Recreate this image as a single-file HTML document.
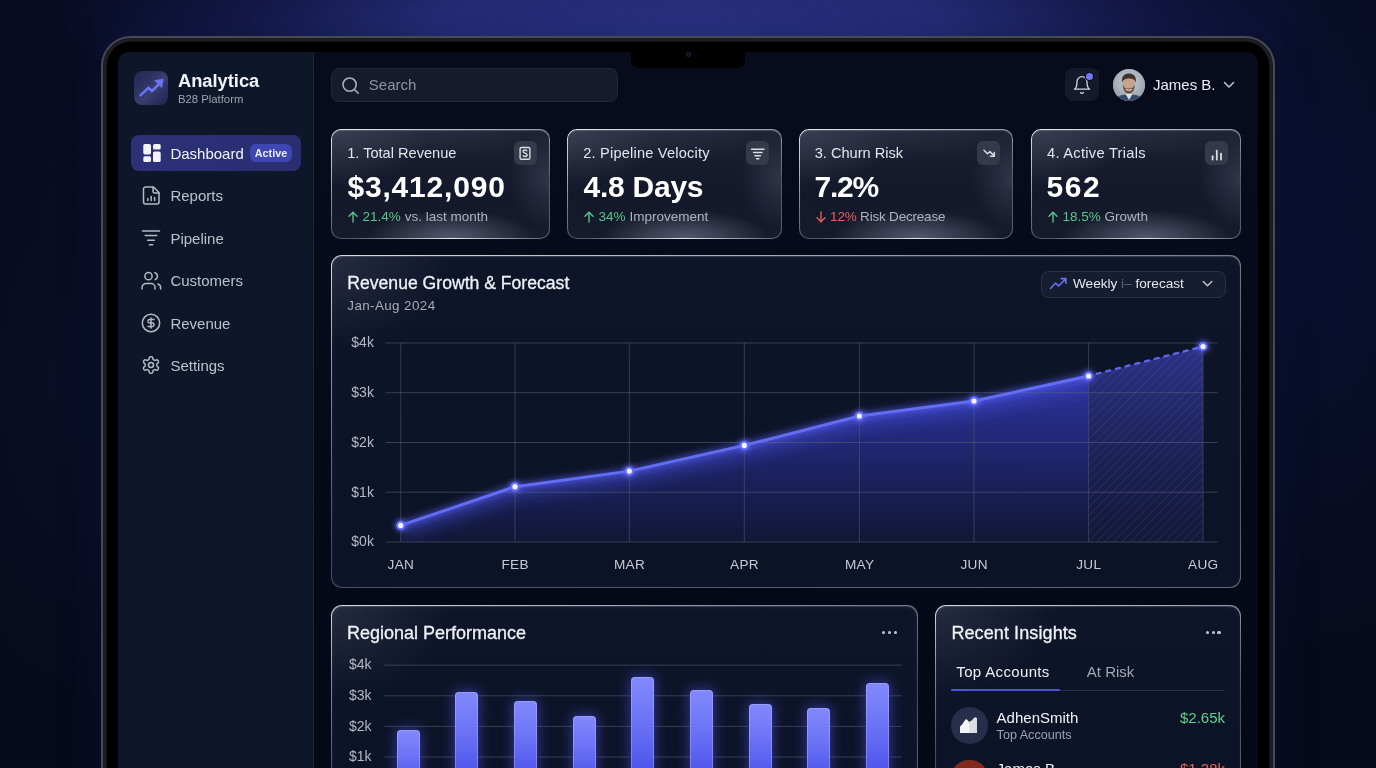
<!DOCTYPE html>
<html><head><meta charset="utf-8"><style>
*{margin:0;padding:0;box-sizing:border-box}
html,body{width:1376px;height:768px;overflow:hidden}
body{position:relative;background:#060a1b;font-family:"Liberation Sans",sans-serif;color:#e8eaf0}
.a{position:absolute}
.t{position:absolute;line-height:1;white-space:nowrap}
#glow{left:0;top:0;width:1376px;height:768px;
 background:
 radial-gradient(ellipse 640px 115px at 688px 22px, rgba(40,48,128,1) 0%, rgba(38,46,122,0.9) 40%, rgba(26,32,94,0.55) 70%, rgba(6,10,27,0) 100%),
 radial-gradient(ellipse 800px 400px at 688px 0px, rgba(20,26,80,0.5) 0%, rgba(6,10,27,0) 100%),
 radial-gradient(ellipse 160px 420px at 1330px 260px, rgba(14,22,72,0.45) 0%, rgba(6,10,27,0) 100%),
 radial-gradient(ellipse 130px 340px at 60px 380px, rgba(14,20,52,0.45) 0%, rgba(6,10,27,0) 100%);}
#device{left:100.6px;top:35.5px;width:1174px;height:800px;border-radius:30px;background:#000;border:2.5px solid #474953;box-shadow:inset 0 0 0 3.6px #1b1d22, 0 10px 40px 0 rgba(16,24,72,0.4);}
#screen{left:118px;top:52px;width:1140px;height:760px;border-radius:11px;background:linear-gradient(180deg,#070b1c 0%,#060a19 40%,#050816 100%);overflow:hidden}
#sidebar{left:118px;top:52px;width:196px;height:760px;border-top-left-radius:11px;background:#0e1629;border-right:1px solid #1b2337}
#notch{left:631px;top:51px;width:114px;height:17px;background:#000;border-radius:0 0 7px 7px}
#cam{left:685.5px;top:52px;width:5px;height:5px;border-radius:50%;background:#0b0d18;border:1px solid #23263a}
.logo{left:134px;top:71px;width:34px;height:34px;border-radius:8px;background:linear-gradient(135deg,#242950 0%,#2b3060 30%,#3a3f72 55%,#2c3160 75%,#22264a 100%)}
.navact{left:131px;top:135px;width:170px;height:36px;border-radius:8px;background:linear-gradient(90deg,#2c3178,#292e70)}
.badge{left:250px;top:144px;width:42px;height:18px;border-radius:6px;background:#3f46b2}
.ico{position:absolute}
.search{left:331px;top:68px;width:287px;height:33.8px;border-radius:8px;background:#151b2d;border:1px solid #20273a}
.bell{left:1065px;top:68px;width:34px;height:33px;border-radius:8px;background:#141a2c}
.bdot{left:1086px;top:73px;width:7.4px;height:7.4px;border-radius:50%;background:#7077ef;box-shadow:0 0 0 1.2px #0a0f26}
.avatar{left:1113px;top:69px;width:32px;height:32px;border-radius:50%;overflow:hidden;background:#8a8f98}

.card{position:absolute;border-radius:10px;border:1.5px solid transparent;
 background:
  radial-gradient(ellipse 100px 55px at 0% 0%, rgba(78,84,104,0.6), rgba(78,84,104,0) 100%) padding-box,
  radial-gradient(ellipse 85px 28px at 55% 100%, rgba(125,131,152,0.6), rgba(125,131,152,0) 100%) padding-box,
  radial-gradient(ellipse 40px 50px at 100% 45%, rgba(80,86,106,0.45), rgba(80,86,106,0) 100%) padding-box,
  radial-gradient(ellipse 120px 30px at 50% 0%, rgba(70,76,96,0.3), rgba(70,76,96,0) 100%) padding-box,
  linear-gradient(180deg,#1a1f31 0%,#13192b 60%,#151a2c 100%) padding-box,
  radial-gradient(ellipse 45% 35% at 55% 100%, rgba(236,239,246,0.95), rgba(236,239,246,0) 100%) border-box,
  linear-gradient(165deg, rgba(240,242,248,0.97) 0%, rgba(200,205,216,0.8) 30%, rgba(125,131,147,0.65) 65%, rgba(135,141,156,0.65) 100%) border-box;
 box-shadow: inset 0 1px 1px rgba(255,255,255,0.18);}
.cico{position:absolute;width:23.5px;height:24px;border-radius:6px;background:#353a4b}
.up{color:#55c888}.dn{color:#e2625c}.mut{color:#adb2bf}

.panel{position:absolute;border-radius:11px;border:1.4px solid transparent;
 background:
  radial-gradient(ellipse 120px 90px at 0% 0%, rgba(60,66,86,0.5), rgba(60,66,86,0) 100%) padding-box,
  linear-gradient(180deg,#0f1529 0%,#0d1326 100%) padding-box,
  linear-gradient(170deg, rgba(236,239,246,0.92) 0%, rgba(190,195,208,0.7) 25%, rgba(120,126,142,0.55) 60%, rgba(150,156,170,0.65) 100%) border-box;
 box-shadow: inset 0 1px 1px rgba(255,255,255,0.15), inset 0 1px 8px rgba(255,255,255,0.04);}
.dd{left:1041px;top:270.5px;width:185px;height:27px;border-radius:8px;background:#171d30;border:1px solid #2a3146}

.dots{position:absolute;width:3.4px;height:3.4px;border-radius:50%;background:#c4c8d2}
.bar{position:absolute;width:23px;border-radius:4px 4px 0 0;
 background:linear-gradient(180deg,#8289fc 0%,#6d74f6 35%,#5057ec 72%,#434ae4 100%);
 box-shadow:inset 0 0 0 1px rgba(185,190,255,0.4), 0 0 12px 2px rgba(80,88,245,0.45)}
</style></head><body>
<div id="glow" class="a"></div><div id="device" class="a"></div><div id="screen" class="a"></div><div id="sidebar" class="a"></div><div id="notch" class="a"></div><div id="cam" class="a"></div>
<div class="a logo"></div>
<svg class="ico" style="left:134px;top:71px" width="34" height="34" viewBox="0 0 34 34"><path d="M6.5 24.3L14.3 16.8L18 20L25.5 12.6" fill="none" stroke="#6b74f3" stroke-width="2.5" stroke-linecap="round" stroke-linejoin="round"/><path d="M29.2 8.2L20.8 9.6L27.8 16.6Z" fill="#6b74f3" stroke="#6b74f3" stroke-width="0.8" stroke-linejoin="round"/></svg>
<div class="t" style="top:72.11px;font-size:18.3px;color:#f4f5f8;font-weight:700;left:178.00px;">Analytica</div>
<div class="t" style="top:94.23px;font-size:11.3px;color:#9ea3b2;font-weight:400;left:178.00px;">B28 Platform</div>
<div class="a navact"></div>
<div class="a badge"></div>
<div class="t" style="top:147.86px;font-size:10.8px;color:#e9ebff;font-weight:700;left:250.00px;width:42px;text-align:center;">Active</div>
<svg class="ico" style="left:142.5px;top:144px" width="18" height="18" viewBox="0 0 18 18" fill="#f2f3f8"><rect x="0.3" y="0" width="7.7" height="10.4" rx="1.6"/><rect x="10" y="0" width="7.7" height="5.6" rx="1.6"/><rect x="10" y="7.4" width="7.7" height="10.6" rx="1.6"/><rect x="0.3" y="12.2" width="7.7" height="5.8" rx="1.6"/></svg>
<div class="t" style="top:146.00px;font-size:15px;color:#f3f4f8;font-weight:400;left:170.40px;">Dashboard</div>
<div class="t" style="top:188.45px;font-size:15px;color:#bcc1cc;font-weight:400;left:170.40px;">Reports</div>
<div class="t" style="top:230.90px;font-size:15px;color:#bcc1cc;font-weight:400;left:170.40px;">Pipeline</div>
<div class="t" style="top:273.35px;font-size:15px;color:#bcc1cc;font-weight:400;left:170.40px;">Customers</div>
<div class="t" style="top:315.80px;font-size:15px;color:#bcc1cc;font-weight:400;left:170.40px;">Revenue</div>
<div class="t" style="top:358.25px;font-size:15px;color:#bcc1cc;font-weight:400;left:170.40px;">Settings</div>
<svg class="ico" style="left:142px;top:186px" width="19" height="19" viewBox="0 0 19 19" fill="none" stroke="#b4b9c6" stroke-width="1.5" stroke-linecap="round" stroke-linejoin="round"><path d="M11.5 1H3.5A2 2 0 0 0 1.5 3V16A2 2 0 0 0 3.5 18H15A2 2 0 0 0 17 16V6.5Z"/><path d="M11 1.2V5A2 2 0 0 0 13 7H16.8"/><path d="M5.8 14.5V12.6"/><path d="M9.2 14.5V10.4"/><path d="M12.6 14.5V11.5"/></svg>
<svg class="ico" style="left:141px;top:229px" width="20" height="18" viewBox="0 0 20 18" fill="none" stroke="#b4b9c6" stroke-width="1.5" stroke-linecap="round"><path d="M1.5 2H18.5"/><path d="M4.2 6.6H15.8"/><path d="M6.6 11.2H13.4"/><path d="M8.4 15.8H11.6"/></svg>
<svg class="ico" style="left:141px;top:271px" width="21" height="19" viewBox="0 0 21 19" fill="none" stroke="#b4b9c6" stroke-width="1.5" stroke-linecap="round" stroke-linejoin="round"><path d="M1 18V16.5A4 4 0 0 1 5 12.5H10A4 4 0 0 1 14 16.5V18"/><circle cx="7.5" cy="5.2" r="3.6"/><path d="M19.6 18V16.6A3.7 3.7 0 0 0 17 13"/><path d="M13.8 1.8A3.6 3.6 0 0 1 14.2 8.6"/></svg>
<svg class="ico" style="left:141px;top:313px" width="20" height="20" viewBox="0 0 20 20" fill="none" stroke="#b4b9c6" stroke-width="1.5" stroke-linecap="round" stroke-linejoin="round"><circle cx="10" cy="10" r="8.7"/><path d="M13 6.6H8.6A1.7 1.7 0 0 0 8.6 10H11.4A1.7 1.7 0 0 1 11.4 13.4H7"/><path d="M10 15V5"/></svg>
<svg class="ico" style="left:141px;top:355px" width="20" height="20" viewBox="0 0 24 24" fill="none" stroke="#b4b9c6" stroke-width="1.8" stroke-linecap="round" stroke-linejoin="round"><path d="M12.22 2h-.44a2 2 0 0 0-2 2v.18a2 2 0 0 1-1 1.73l-.43.25a2 2 0 0 1-2 0l-.15-.08a2 2 0 0 0-2.73.73l-.22.38a2 2 0 0 0 .73 2.73l.15.1a2 2 0 0 1 1 1.72v.51a2 2 0 0 1-1 1.74l-.15.09a2 2 0 0 0-.73 2.73l.22.38a2 2 0 0 0 2.73.73l.15-.08a2 2 0 0 1 2 0l.43.25a2 2 0 0 1 1 1.73V20a2 2 0 0 0 2 2h.44a2 2 0 0 0 2-2v-.18a2 2 0 0 1 1-1.73l.43-.25a2 2 0 0 1 2 0l.15.08a2 2 0 0 0 2.73-.73l.22-.39a2 2 0 0 0-.73-2.73l-.15-.08a2 2 0 0 1-1-1.74v-.5a2 2 0 0 1 1-1.74l.15-.09a2 2 0 0 0 .73-2.73l-.22-.38a2 2 0 0 0-2.73-.73l-.15.08a2 2 0 0 1-2 0l-.43-.25a2 2 0 0 1-1-1.73V4a2 2 0 0 0-2-2z"/><circle cx="12" cy="12" r="3"/></svg>
<div class="a search"></div>
<svg class="ico" style="left:341px;top:76px" width="19" height="19" viewBox="0 0 19 19" fill="none" stroke="#a9aebb" stroke-width="1.6" stroke-linecap="round"><circle cx="8.6" cy="8.6" r="6.6"/><path d="M13.5 13.5L17.2 17.2"/></svg>
<div class="t" style="top:77.10px;font-size:15px;color:#8d93a3;font-weight:400;left:368.80px;">Search</div>
<div class="a bell"></div>
<svg class="ico" style="left:1072px;top:75px" width="20" height="20" viewBox="0 0 24 24" fill="none" stroke="#cfd3dc" stroke-width="1.6" stroke-linecap="round" stroke-linejoin="round"><path d="M6 8a6 6 0 0 1 12 0c0 7 3 9 3 9H3s3-2 3-9"/><path d="M10.3 21a1.94 1.94 0 0 0 3.4 0"/></svg>
<div class="a bdot"></div>
<div class="a avatar"><svg width="32" height="32" viewBox="0 0 32 32"><defs><radialGradient id="avbg" cx="0.5" cy="0.4" r="0.7"><stop offset="0" stop-color="#c9cfd6"/><stop offset="1" stop-color="#8e98a4"/></radialGradient><filter id="avb"><feGaussianBlur stdDeviation="0.6"/></filter></defs><rect width="32" height="32" fill="url(#avbg)"/><g filter="url(#avb)"><path d="M2 33C3 27 8 25.5 16 25.5S29 27 30 33Z" fill="#34496b"/><path d="M12.5 25L16 31L19.5 25Z" fill="#dcdfe4"/><ellipse cx="15.8" cy="15.6" rx="6" ry="7.8" fill="#c9a28a"/><path d="M9.6 15C9.8 21.5 12.5 24.5 15.8 24.5S21.8 21.5 22 15C21 18.5 19 19.5 15.8 19.5S10.6 18.5 9.6 15Z" fill="#6e5040"/><path d="M9 14C8.2 7 11.5 4.6 16 4.6S23.6 7 22.8 14C22 10.2 19.5 9.4 16 9.4S10 10.2 9 14Z" fill="#45322a"/><path d="M12.8 20.3Q15.8 22.2 18.8 20.3" stroke="#f2ede8" stroke-width="1.2" fill="none"/></g></svg></div>
<div class="t" style="top:77.10px;font-size:15px;color:#eceef3;font-weight:400;left:1153.00px;">James B.</div>
<svg class="ico" style="left:1223px;top:80.5px" width="12" height="8" viewBox="0 0 12 8" fill="none" stroke="#c3c7d1" stroke-width="1.5" stroke-linecap="round" stroke-linejoin="round"><path d="M1.5 1.5L6 6L10.5 1.5"/></svg>
<div class="card" style="left:331px;top:129px;width:219px;height:110px"></div>
<div class="cico" style="left:513.5px;top:141px"></div>
<div class="t" style="top:145.84px;font-size:14.6px;color:#e3e6ed;font-weight:400;left:347.20px;">1. Total Revenue</div>
<div class="t" style="top:171.80px;font-size:30px;color:#ffffff;font-weight:700;letter-spacing:0.8px;left:347.50px;">$3,412,090</div>
<svg class="ico" style="left:348.4px;top:210.5px" width="10" height="12" viewBox="0 0 10 12" fill="none" stroke="#55c888" stroke-width="1.35" stroke-linecap="round" stroke-linejoin="round"><path d="M5 1.2V11"/><path d="M1 5.2L5 1.2L9 5.2"/></svg><div class="t" style="top:209.77px;font-size:13.5px;color:#a4a9b7;font-weight:400;left:362.60px;"><span class="up">21.4%</span> <span class="mut">vs. last month</span></div>
<div class="card" style="left:567px;top:129px;width:215px;height:110px"></div>
<div class="cico" style="left:745.5px;top:141px"></div>
<div class="t" style="top:145.84px;font-size:14.6px;color:#e3e6ed;font-weight:400;letter-spacing:0.2px;left:583.20px;">2. Pipeline Velocity</div>
<div class="t" style="top:171.80px;font-size:30px;color:#ffffff;font-weight:700;letter-spacing:-0.25px;left:583.50px;">4.8 Days</div>
<svg class="ico" style="left:584.4px;top:210.5px" width="10" height="12" viewBox="0 0 10 12" fill="none" stroke="#55c888" stroke-width="1.35" stroke-linecap="round" stroke-linejoin="round"><path d="M5 1.2V11"/><path d="M1 5.2L5 1.2L9 5.2"/></svg><div class="t" style="top:209.77px;font-size:13.5px;color:#a4a9b7;font-weight:400;left:598.60px;"><span class="up">34%</span> <span class="mut">Improvement</span></div>
<div class="card" style="left:798.5px;top:129px;width:214.79999999999995px;height:110px"></div>
<div class="cico" style="left:976.8px;top:141px"></div>
<div class="t" style="top:145.84px;font-size:14.6px;color:#e3e6ed;font-weight:400;left:814.70px;">3. Churn Risk</div>
<div class="t" style="top:171.80px;font-size:30px;color:#ffffff;font-weight:700;letter-spacing:-1.2px;left:814.50px;">7.2%</div>
<svg class="ico" style="left:815.9px;top:210.5px" width="10" height="12" viewBox="0 0 10 12" fill="none" stroke="#e2625c" stroke-width="1.35" stroke-linecap="round" stroke-linejoin="round"><path d="M5 1V10.8"/><path d="M1 6.8L5 10.8L9 6.8"/></svg><div class="t" style="top:209.77px;font-size:13.5px;color:#a4a9b7;font-weight:400;letter-spacing:-0.2px;left:830.10px;"><span class="dn">12%</span> <span class="mut">Risk Decrease</span></div>
<div class="card" style="left:1030.8px;top:129px;width:210.60000000000014px;height:110px"></div>
<div class="cico" style="left:1204.9px;top:141px"></div>
<div class="t" style="top:145.84px;font-size:14.6px;color:#e3e6ed;font-weight:400;letter-spacing:0.3px;left:1047.00px;">4. Active Trials</div>
<div class="t" style="top:171.80px;font-size:30px;color:#ffffff;font-weight:700;letter-spacing:1.6px;left:1046.50px;">562</div>
<svg class="ico" style="left:1048.2px;top:210.5px" width="10" height="12" viewBox="0 0 10 12" fill="none" stroke="#55c888" stroke-width="1.35" stroke-linecap="round" stroke-linejoin="round"><path d="M5 1.2V11"/><path d="M1 5.2L5 1.2L9 5.2"/></svg><div class="t" style="top:209.77px;font-size:13.5px;color:#a4a9b7;font-weight:400;left:1062.40px;"><span class="up">18.5%</span> <span class="mut">Growth</span></div>
<svg class="ico" style="left:513px;top:141px" width="24" height="24" viewBox="0 0 24 24" fill="none" stroke="#d9dce4" stroke-width="1.4"><rect x="7.1" y="6.5" width="9.8" height="11.8" rx="1.3"/><path d="M14.1 10.2C13.8 9.5 13 9.1 12.1 9.1C10.9 9.1 10.1 9.7 10.1 10.6C10.1 12.5 14.1 11.7 14.1 13.8C14.1 14.8 13.2 15.4 12 15.4C11 15.4 10.2 15 9.9 14.2" stroke-width="1.5"/></svg>
<svg class="ico" style="left:746px;top:141px" width="24" height="24" viewBox="0 0 24 24" fill="none" stroke="#d9dce4" stroke-width="1.5" stroke-linecap="round"><path d="M5.5 8.2H18"/><path d="M7.6 11.6H16"/><path d="M9 14.8H14.4"/><path d="M10.6 17.8H12.8"/></svg>
<svg class="ico" style="left:977px;top:141px" width="24" height="24" viewBox="0 0 24 24" fill="none" stroke="#d9dce4" stroke-width="1.5" stroke-linecap="round" stroke-linejoin="round"><path d="M7 9.3L10.5 12.8L13 10.6L17 14.6"/><path d="M13.4 15.2H17.3V11.6"/></svg>
<svg class="ico" style="left:1205px;top:141px" width="24" height="24" viewBox="0 0 24 24" fill="none" stroke="#d9dce4" stroke-width="1.8" stroke-linecap="round"><path d="M7.6 18.6V15.2"/><path d="M11.8 18.6V9.6"/><path d="M16 18.6V12.6"/></svg>
<div class="panel" style="left:331px;top:255.3px;width:910.4px;height:333px"></div>
<div class="t" style="top:274.80px;font-size:17.6px;color:#f0f2f6;font-weight:400;left:347.30px;-webkit-text-stroke:0.3px #f0f2f6;">Revenue Growth &amp; Forecast</div>
<div class="t" style="top:298.86px;font-size:13.4px;color:#a6abb8;font-weight:400;letter-spacing:0.4px;left:347.30px;">Jan-Aug 2024</div>
<div class="a dd"></div>
<svg class="ico" style="left:1049px;top:276px" width="19" height="15" viewBox="0 0 19 15" fill="none" stroke="#6a73f2" stroke-width="1.6" stroke-linecap="round" stroke-linejoin="round"><path d="M1.5 12.5L6.5 7L9.5 10L16.5 3"/><path d="M12.2 2.6H16.8V7.2"/></svg>
<div class="t" style="top:277.09px;font-size:13.6px;color:#e6e8ee;font-weight:400;left:1073.00px;">Weekly <span style="color:#5d6273">i–</span> forecast</div>
<svg class="ico" style="left:1202px;top:280px" width="11" height="8" viewBox="0 0 11 8" fill="none" stroke="#c3c7d1" stroke-width="1.4" stroke-linecap="round" stroke-linejoin="round"><path d="M1.2 1.5L5.5 5.8L9.8 1.5"/></svg>
<svg class="ico" style="left:331px;top:255px" width="911" height="333" viewBox="331 255 911 333"><defs>
<linearGradient id="af" x1="0" y1="340" x2="0" y2="545" gradientUnits="userSpaceOnUse">
<stop offset="0" stop-color="#4048f0" stop-opacity="0.74"/><stop offset="0.45" stop-color="#3c44e0" stop-opacity="0.45"/><stop offset="1" stop-color="#3038c0" stop-opacity="0.1"/></linearGradient>
<linearGradient id="hf" x1="0" y1="345" x2="0" y2="545" gradientUnits="userSpaceOnUse">
<stop offset="0" stop-color="#454cd8" stop-opacity="0.55"/><stop offset="1" stop-color="#3038a0" stop-opacity="0.12"/></linearGradient>
<pattern id="hatch" width="6" height="6" patternUnits="userSpaceOnUse" patternTransform="rotate(45)"><path d="M0 0V6" stroke="#8088e0" stroke-opacity="0.22" stroke-width="1.2"/></pattern>
<filter id="glw" x="-20%" y="-20%" width="140%" height="140%"><feGaussianBlur stdDeviation="3"/></filter>
<filter id="glw2" x="-50%" y="-50%" width="200%" height="200%"><feGaussianBlur stdDeviation="2.5"/></filter>
</defs><path d="M400.7,542 L400.7,525.4 L515,486.7 L629.3,471.1 L744.3,445.4 L859.4,416 L974,401 L1088.6,376 L1088.6,542 Z" fill="url(#af)"/><path d="M1088.6,542 L1088.6,376 L1203,346.5 L1203,542 Z" fill="url(#hf)"/><clipPath id="acl"><path d="M400.7,542 L400.7,525.4 L515,486.7 L629.3,471.1 L744.3,445.4 L859.4,416 L974,401 L1088.6,376 L1088.6,542 Z"/></clipPath><filter id="gb" x="-10%" y="-50%" width="120%" height="200%"><feGaussianBlur stdDeviation="7"/></filter><g clip-path="url(#acl)"><path d="M400.7,525.4 L515,486.7 L629.3,471.1 L744.3,445.4 L859.4,416 L974,401 L1088.6,376" fill="none" stroke="#4b53ec" stroke-width="26" stroke-opacity="0.36" filter="url(#gb)"/></g><path d="M1088.6,542 L1088.6,376 L1203,346.5 L1203,542 Z" fill="url(#hatch)"/><path d="M385.6 343H1217.7" stroke="#5a6275" stroke-opacity="0.55" stroke-width="1"/><path d="M385.6 392.7H1217.7" stroke="#5a6275" stroke-opacity="0.55" stroke-width="1"/><path d="M385.6 442.5H1217.7" stroke="#5a6275" stroke-opacity="0.55" stroke-width="1"/><path d="M385.6 492.2H1217.7" stroke="#5a6275" stroke-opacity="0.55" stroke-width="1"/><path d="M385.6 542H1217.7" stroke="#5a6275" stroke-opacity="0.55" stroke-width="1"/><path d="M400.7 343V542" stroke="#5a6275" stroke-opacity="0.5" stroke-width="1"/><path d="M515 343V542" stroke="#5a6275" stroke-opacity="0.5" stroke-width="1"/><path d="M629.3 343V542" stroke="#5a6275" stroke-opacity="0.5" stroke-width="1"/><path d="M744.3 343V542" stroke="#5a6275" stroke-opacity="0.5" stroke-width="1"/><path d="M859.4 343V542" stroke="#5a6275" stroke-opacity="0.5" stroke-width="1"/><path d="M974 343V542" stroke="#5a6275" stroke-opacity="0.5" stroke-width="1"/><path d="M1088.6 343V542" stroke="#5a6275" stroke-opacity="0.5" stroke-width="1"/><path d="M1203 343V542" stroke="#5a6275" stroke-opacity="0.5" stroke-width="1"/><path d="M400.7,525.4 L515,486.7 L629.3,471.1 L744.3,445.4 L859.4,416 L974,401 L1088.6,376" fill="none" stroke="#5d66ff" stroke-width="6" stroke-opacity="0.6" filter="url(#glw)"/><path d="M400.7,525.4 L515,486.7 L629.3,471.1 L744.3,445.4 L859.4,416 L974,401 L1088.6,376" fill="none" stroke="#646cf4" stroke-width="2.9" stroke-linejoin="round" stroke-linecap="round"/><path d="M1096.6,373.9 L1203,346.5" fill="none" stroke="#5d66ee" stroke-width="2.4" stroke-dasharray="4 6" stroke-linecap="round"/><circle cx="400.7" cy="525.4" r="6" fill="#5f68ff" fill-opacity="0.7" filter="url(#glw2)"/><circle cx="400.7" cy="525.4" r="3.6" fill="#f4f5ff" stroke="#6870ff" stroke-width="2"/><circle cx="515" cy="486.7" r="6" fill="#5f68ff" fill-opacity="0.7" filter="url(#glw2)"/><circle cx="515" cy="486.7" r="3.6" fill="#f4f5ff" stroke="#6870ff" stroke-width="2"/><circle cx="629.3" cy="471.1" r="6" fill="#5f68ff" fill-opacity="0.7" filter="url(#glw2)"/><circle cx="629.3" cy="471.1" r="3.6" fill="#f4f5ff" stroke="#6870ff" stroke-width="2"/><circle cx="744.3" cy="445.4" r="6" fill="#5f68ff" fill-opacity="0.7" filter="url(#glw2)"/><circle cx="744.3" cy="445.4" r="3.6" fill="#f4f5ff" stroke="#6870ff" stroke-width="2"/><circle cx="859.4" cy="416" r="6" fill="#5f68ff" fill-opacity="0.7" filter="url(#glw2)"/><circle cx="859.4" cy="416" r="3.6" fill="#f4f5ff" stroke="#6870ff" stroke-width="2"/><circle cx="974" cy="401" r="6" fill="#5f68ff" fill-opacity="0.7" filter="url(#glw2)"/><circle cx="974" cy="401" r="3.6" fill="#f4f5ff" stroke="#6870ff" stroke-width="2"/><circle cx="1088.6" cy="376" r="6" fill="#5f68ff" fill-opacity="0.7" filter="url(#glw2)"/><circle cx="1088.6" cy="376" r="3.6" fill="#f4f5ff" stroke="#6870ff" stroke-width="2"/><circle cx="1203" cy="346.5" r="6" fill="#5f68ff" fill-opacity="0.7" filter="url(#glw2)"/><circle cx="1203" cy="346.5" r="3.6" fill="#f4f5ff" stroke="#6870ff" stroke-width="2"/><text x="373.9" y="347.3" text-anchor="end" font-family="Liberation Sans, sans-serif" font-size="14" fill="#b4b9c5">$4k</text><text x="373.9" y="397.0" text-anchor="end" font-family="Liberation Sans, sans-serif" font-size="14" fill="#b4b9c5">$3k</text><text x="373.9" y="446.8" text-anchor="end" font-family="Liberation Sans, sans-serif" font-size="14" fill="#b4b9c5">$2k</text><text x="373.9" y="496.5" text-anchor="end" font-family="Liberation Sans, sans-serif" font-size="14" fill="#b4b9c5">$1k</text><text x="373.9" y="546.3" text-anchor="end" font-family="Liberation Sans, sans-serif" font-size="14" fill="#b4b9c5">$0k</text><text x="400.9" y="568.5" text-anchor="middle" font-family="Liberation Sans, sans-serif" font-size="13.6" letter-spacing="0.3" fill="#c5c9d3">JAN</text><text x="515.2" y="568.5" text-anchor="middle" font-family="Liberation Sans, sans-serif" font-size="13.6" letter-spacing="0.3" fill="#c5c9d3">FEB</text><text x="629.5" y="568.5" text-anchor="middle" font-family="Liberation Sans, sans-serif" font-size="13.6" letter-spacing="0.3" fill="#c5c9d3">MAR</text><text x="744.5" y="568.5" text-anchor="middle" font-family="Liberation Sans, sans-serif" font-size="13.6" letter-spacing="0.3" fill="#c5c9d3">APR</text><text x="859.6" y="568.5" text-anchor="middle" font-family="Liberation Sans, sans-serif" font-size="13.6" letter-spacing="0.3" fill="#c5c9d3">MAY</text><text x="974.2" y="568.5" text-anchor="middle" font-family="Liberation Sans, sans-serif" font-size="13.6" letter-spacing="0.3" fill="#c5c9d3">JUN</text><text x="1088.8" y="568.5" text-anchor="middle" font-family="Liberation Sans, sans-serif" font-size="13.6" letter-spacing="0.3" fill="#c5c9d3">JUL</text><text x="1203.2" y="568.5" text-anchor="middle" font-family="Liberation Sans, sans-serif" font-size="13.6" letter-spacing="0.3" fill="#c5c9d3">AUG</text></svg>
<div class="panel" style="left:331px;top:605px;width:587px;height:200px"></div>
<div class="t" style="top:623.96px;font-size:18px;color:#f0f2f6;font-weight:400;left:347.00px;-webkit-text-stroke:0.3px #f0f2f6;">Regional Performance</div>
<div class="dots" style="left:882.0px;top:630.7px"></div><div class="dots" style="left:888.0px;top:630.7px"></div><div class="dots" style="left:894.0px;top:630.7px"></div>
<svg class="ico" style="left:331px;top:605px" width="587" height="163" viewBox="331 605 587 163"><path d="M384.3 665.1H901.8" stroke="#5a6275" stroke-opacity="0.55" stroke-width="1"/><path d="M384.3 695.8H901.8" stroke="#5a6275" stroke-opacity="0.55" stroke-width="1"/><path d="M384.3 726.4H901.8" stroke="#5a6275" stroke-opacity="0.55" stroke-width="1"/><path d="M384.3 757.0H901.8" stroke="#5a6275" stroke-opacity="0.55" stroke-width="1"/><text x="371.6" y="669.4" text-anchor="end" font-family="Liberation Sans, sans-serif" font-size="14" fill="#b4b9c5">$4k</text><text x="371.6" y="700.0999999999999" text-anchor="end" font-family="Liberation Sans, sans-serif" font-size="14" fill="#b4b9c5">$3k</text><text x="371.6" y="730.6999999999999" text-anchor="end" font-family="Liberation Sans, sans-serif" font-size="14" fill="#b4b9c5">$2k</text><text x="371.6" y="761.3" text-anchor="end" font-family="Liberation Sans, sans-serif" font-size="14" fill="#b4b9c5">$1k</text></svg>
<div class="bar" style="left:396.8px;top:730.2px;height:69.8px"></div><div class="bar" style="left:455.4px;top:691.6px;height:108.4px"></div><div class="bar" style="left:514.1px;top:701.2px;height:98.8px"></div><div class="bar" style="left:572.8px;top:715.6px;height:84.4px"></div><div class="bar" style="left:631.4px;top:676.9px;height:123.1px"></div><div class="bar" style="left:690.0px;top:690.4px;height:109.6px"></div><div class="bar" style="left:748.7px;top:703.7px;height:96.3px"></div><div class="bar" style="left:807.4px;top:707.6px;height:92.4px"></div><div class="bar" style="left:866.0px;top:682.6px;height:117.4px"></div>
<div class="panel" style="left:935px;top:605px;width:306.2px;height:200px"></div>
<div class="t" style="top:624.16px;font-size:18px;color:#f0f2f6;font-weight:400;letter-spacing:0.1px;left:951.40px;-webkit-text-stroke:0.3px #f0f2f6;">Recent Insights</div>
<div class="dots" style="left:1205.8px;top:630.8px"></div><div class="dots" style="left:1211.6px;top:630.8px"></div><div class="dots" style="left:1217.4px;top:630.8px"></div>
<div class="t" style="top:664.40px;font-size:15px;color:#eef0f4;font-weight:400;letter-spacing:0.35px;left:956.30px;">Top Accounts</div>
<div class="t" style="top:664.40px;font-size:15px;color:#a2a7b4;font-weight:400;left:1086.80px;">At Risk</div>
<div class="a" style="left:951px;top:690px;width:274px;height:1px;background:#2a3146"></div>
<div class="a" style="left:951px;top:689.4px;width:109px;height:1.7px;background:#4d55d4;border-radius:1px"></div>
<div class="a" style="left:951px;top:707px;width:36.5px;height:36.5px;border-radius:50%;background:#272e49"></div>
<svg class="ico" style="left:959px;top:716px" width="20" height="18" viewBox="0 0 20 18" ><path d="M1 17V10.5L3 8.5L6.5 3.6Q7.5 2.6 8.5 4L10.6 6.8L15.5 1.8Q17 1 18 2.6V17Z" fill="#f4f5f7"/><rect x="10.6" y="5" width="7.4" height="12" fill="#d7d9de"/><path d="M10.6 6.8L15.5 1.8Q17 1 18 2.6V17H10.6Z" fill="#dcdee3"/></svg>
<div class="t" style="top:709.50px;font-size:15px;color:#f2f3f7;font-weight:400;left:996.60px;">AdhenSmith</div>
<div class="t" style="top:729.33px;font-size:12.6px;color:#9da2b0;font-weight:400;left:996.60px;">Top Accounts</div>
<div class="t" style="top:709.50px;font-size:15px;color:#5fd08e;font-weight:400;right:151.00px;text-align:right;">$2.65k</div>
<div class="a" style="left:951px;top:759.6px;width:36.5px;height:36.5px;border-radius:50%;background:#82291d"></div>
<div class="t" style="top:761.20px;font-size:15px;color:#f2f3f7;font-weight:400;left:996.60px;">James B.</div>
<div class="t" style="top:761.20px;font-size:15px;color:#e2645c;font-weight:400;right:151.00px;text-align:right;">$1.28k</div>
</body></html>
